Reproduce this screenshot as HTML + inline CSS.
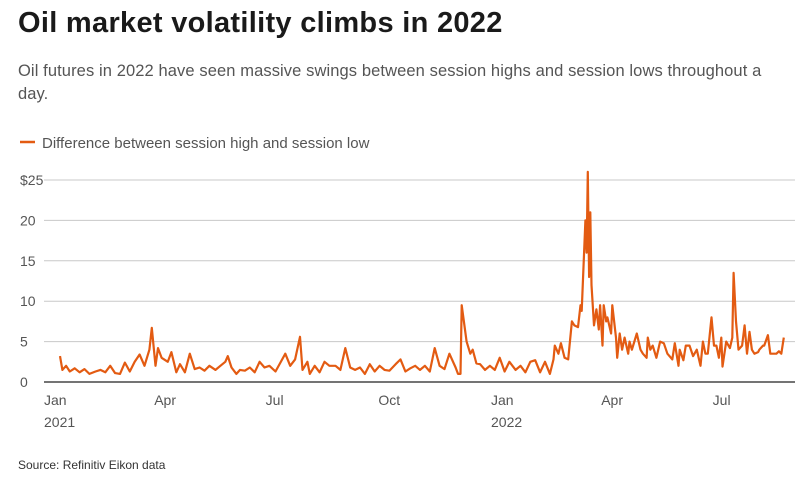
<!DOCTYPE html>
<html><head><meta charset="utf-8"><style>
body{margin:0;background:#fff;font-family:"Liberation Sans",sans-serif;width:812px;height:478px;overflow:hidden;position:relative}
.t{position:absolute;left:18px;top:7px;font-size:29px;font-weight:bold;color:#1a1a1a;letter-spacing:0.3px}
.s{position:absolute;left:18px;top:60px;width:770px;font-size:16.5px;line-height:23px;color:#555;letter-spacing:0.1px}
.src{position:absolute;left:18px;top:458px;font-size:12px;color:#333}
svg{position:absolute;left:0;top:0}
</style></head><body>
<div class="t">Oil market volatility climbs in 2022</div>
<div class="s">Oil futures in 2022 have seen massive swings between session highs and session lows throughout a<br>day.</div>
<div class="src">Source: Refinitiv Eikon data</div>
<svg id="c" width="812" height="478"></svg>
<script>
const days=[0,2,5,8,12,16,20,24,29,33,37,41,45,49,53,57,61,65,69,73,75,78,80,83,88,91,95,98,102,106,110,114,118,122,127,131,135,137,140,144,147,151,155,159,163,167,171,176,180,184,188,192,196,198,202,204,208,212,216,220,225,229,233,237,241,245,249,253,257,261,265,269,274,278,282,286,290,294,298,302,306,310,314,318,323,325,327,328,332,335,337,340,343,347,351,355,359,363,367,372,376,380,384,388,392,396,400,403,404,407,409,412,415,418,420,423,425,426,429,430,431,432,433,434,436,438,440,441,443,444,446,447,450,451,454,455,457,459,461,464,465,467,471,474,476,479,480,482,484,487,490,493,496,500,502,505,506,509,511,514,517,520,523,525,527,529,532,534,536,538,540,541,544,547,549,550,552,554,557,559,561,563,565,567,570,571,574,575,578,580,582,585,587,589,591];
const values=[3.2,1.5,2,1.3,1.7,1.2,1.6,1,1.3,1.5,1.2,2,1.1,1,2.4,1.3,2.5,3.4,2,4,6.7,2,4.2,3,2.5,3.7,1.2,2.2,1.2,3.5,1.6,1.8,1.4,2,1.5,2,2.5,3.2,1.8,1,1.5,1.4,1.8,1.2,2.5,1.8,2,1.3,2.4,3.5,2,2.8,5.6,1.5,2.5,1,2,1.2,2.5,2,2,1.5,4.2,1.8,1.5,1.8,1,2.2,1.3,2,1.5,1.4,2.2,2.8,1.3,1.7,2,1.5,2,1.3,4.2,2,1.6,3.5,1.8,1,1,9.5,5,3.5,4,2.3,2.2,1.5,2,1.5,3,1.3,2.5,1.5,2,1.2,2.5,2.7,1.2,2.5,1,2.8,4.5,3.5,4.8,3,2.8,7.5,7,6.8,9.5,8.8,20,16,26,13,21,12,7,9,6.5,9.5,4.5,9.5,7.5,8,6,9.5,5.5,3,6,4,5.5,3.5,5,4,6,4,3.5,3,5.5,4,4.5,3,5,4.8,3.5,2.8,4.8,2,4,2.7,4.5,4.5,3.2,4,2,5,3.5,3.5,8,4.5,4.5,3,5.5,1.9,5,4.2,5.5,13.5,7.5,4,4.5,7,3.5,6.2,4,3.5,3.7,4,4.5,4.5,5.8,3.5,3.5,3.5,3.8,3.5,5.5];
const yTicks=[0,5,10,15,20,25];
const yTickLabels=["0","5","10","15","20","$25"];
const xTickDays=[0,90,181,273,365,455,546];
const xTickLabels=["Jan","Apr","Jul","Oct","Jan","Apr","Jul"];
const xYearLabels=["2021","","","","2022","",""];
const X=d=>60+d*447/365, Y=v=>382-v*40.4/5;
const svg=document.getElementById('c'),NS='http://www.w3.org/2000/svg';
function mk(t,a,txt){const e=document.createElementNS(NS,t);for(const k in a)e.setAttribute(k,a[k]);if(txt!=null)e.textContent=txt;svg.appendChild(e);return e;}
yTicks.forEach((v,i)=>{
 if(v>0){const g=mk('line',{x1:44,x2:795,y1:Y(v),y2:Y(v),stroke:'#c8c8c8','stroke-width':1});
 
 }
 const t=mk('text',{x:20,y:Y(v)+5,'font-size':14,fill:'#555','font-family':'Liberation Sans'},yTickLabels[i]);
 
 
});
xTickDays.forEach((d,i)=>{
 const t=mk('text',{x:X(d)-16,y:405,'font-size':14,fill:'#555','font-family':'Liberation Sans'},xTickLabels[i]);
 
 
 if(xYearLabels[i]){const y=mk('text',{x:X(d)-16,y:427,'font-size':14,fill:'#555','font-family':'Liberation Sans'},xYearLabels[i]);
 
 }
});
const ln=mk('path',{d:days.map((d,i)=>(i?'L':'M')+X(d).toFixed(1)+','+Y(values[i]).toFixed(1)).join(''),fill:'none',stroke:'#e35b12','stroke-width':2.2,'stroke-linejoin':'round'});


const base=mk('line',{x1:44,x2:795,y1:382,y2:382,stroke:'#222','stroke-width':1.3});


const lg=mk('line',{x1:20,x2:35,y1:142,y2:142,stroke:'#e35b12','stroke-width':2.5});


const lt=mk('text',{x:42,y:148,'font-size':15,fill:'#555','font-family':'Liberation Sans'},'Difference between session high and session low');


</script>
</body></html>
